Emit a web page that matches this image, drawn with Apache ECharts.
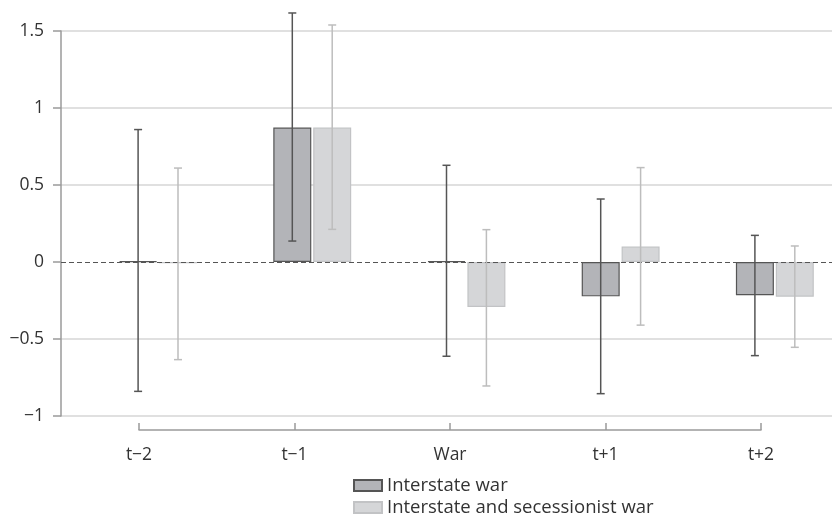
<!DOCTYPE html>
<html>
<head>
<meta charset="utf-8">
<script src="https://cdn.jsdelivr.net/npm/echarts@6/dist/echarts.min.js"></script>
<style>html,body{margin:0;padding:0;background:#fff}#c{width:832px;height:516px}</style>
</head>
<body>
<div id="c"></div>
<script>
var categories = ['t\u22122', 't\u22121', 'War', 't+1', 't+2'];
var interstate = [0.006, 0.873, 0.006, -0.223, -0.216];
var interstateLow = [-0.84, 0.136, -0.612, -0.855, -0.608];
var interstateHigh = [0.86, 1.617, 0.628, 0.409, 0.173];
var combined = [-0.008, 0.873, -0.292, 0.1, -0.225];
var combinedLow = [-0.634, 0.212, -0.805, -0.41, -0.554];
var combinedHigh = [0.61, 1.539, 0.21, 0.613, 0.104];
var seriesNames = ['Interstate war', 'Interstate and secessionist war'];

var FONT = '"Open Sans", "Noto Sans", sans-serif';
var BAR_W = 38, GAP = 0.05;

function errData(lo, hi) {
  return lo.map(function (v, i) { return [i, v, hi[i]]; });
}
function errRender(offset, color) {
  return function (params, api) {
    var i = api.value(0);
    var top = api.coord([i, api.value(2)]);
    var bot = api.coord([i, api.value(1)]);
    var x = top[0] + offset;
    var cap = 4;
    return {
      type: 'group',
      children: [
        { type: 'line', shape: { x1: x, y1: top[1], x2: x, y2: bot[1] }, style: { stroke: color, lineWidth: 1.5 } },
        { type: 'line', shape: { x1: x - cap, y1: top[1], x2: x + cap, y2: top[1] }, style: { stroke: color, lineWidth: 1.5 } },
        { type: 'line', shape: { x1: x - cap, y1: bot[1], x2: x + cap, y2: bot[1] }, style: { stroke: color, lineWidth: 1.5 } }
      ]
    };
  };
}
function legendAt(name, top) {
  return {
    data: [name], orient: 'vertical', left: 353, top: top, padding: 0,
    itemWidth: 28, itemHeight: 11, height: 30,
    icon: 'rect',
    textStyle: { fontFamily: FONT, fontSize: 18.5, color: '#333' }
  };
}

var chart = echarts.init(document.getElementById('c'), null, { renderer: 'canvas' });
chart.setOption({
  animation: false,
  backgroundColor: '#fff',
  textStyle: { fontFamily: FONT },
  grid: [
    { left: 61, top: 31, width: 778, height: 385 },
    { left: 139, top: 429, width: 622, height: 1 }
  ],
  legend: [legendAt(seriesNames[0], 476), legendAt(seriesNames[1], 498)],
  xAxis: [
    { gridIndex: 0, type: 'category', data: categories, boundaryGap: true,
      axisLine: { show: false }, axisTick: { show: false }, axisLabel: { show: false }, splitLine: { show: false } },
    { gridIndex: 1, type: 'category', data: categories, boundaryGap: false, position: 'top',
      axisLine: { show: true, lineStyle: { color: '#9a9a9a', width: 1.5 } },
      axisTick: { show: true, length: 7, inside: false, lineStyle: { color: '#9a9a9a', width: 1.5 } },
      axisLabel: { show: false } },
    { gridIndex: 1, type: 'category', data: categories, boundaryGap: false, position: 'bottom',
      axisLine: { show: false }, axisTick: { show: false },
      axisLabel: { show: true, margin: 16, fontSize: 17.5, color: '#333', fontFamily: FONT } }
  ],
  yAxis: [
    { gridIndex: 0, type: 'value', min: -1, max: 1.5, interval: 0.5,
      axisLine: { show: true, lineStyle: { color: '#9a9a9a', width: 1.5 } },
      axisTick: { show: true, length: 8, lineStyle: { color: '#9a9a9a', width: 1.5 } },
      axisLabel: { margin: 17, fontSize: 17.5, color: '#333', fontFamily: FONT,
        formatter: function (v) { return String(v).replace('-', '\u2212'); } },
      splitLine: { show: true, lineStyle: { color: ['#d6d6d6', '#d6d6d6', 'rgba(0,0,0,0)', '#d6d6d6', '#d6d6d6', '#d6d6d6'], width: 1.5 } } },
    { gridIndex: 1, type: 'value', show: false }
  ],
  series: [
    { name: '_pad', type: 'bar', xAxisIndex: 0, yAxisIndex: 0, barWidth: BAR_W, barGap: '5%',
      data: categories.map(function () { return null; }), silent: true },
    { name: seriesNames[0], type: 'bar', xAxisIndex: 0, yAxisIndex: 0, barWidth: BAR_W, barGap: '5%',
      data: interstate,
      itemStyle: { color: '#b3b4b8', borderColor: '#555', borderWidth: 1.2 },
      markLine: { silent: true, symbol: 'none', label: { show: false },
        lineStyle: { color: '#555', type: [5, 3], width: 1.2 },
        data: [{ yAxis: 0 }], z: 5 } },
    { name: seriesNames[1], type: 'bar', xAxisIndex: 0, yAxisIndex: 0, barWidth: BAR_W, barGap: '5%',
      data: combined,
      itemStyle: { color: '#d5d6d8', borderColor: '#c2c3c5', borderWidth: 1.2 } },
    { type: 'custom', xAxisIndex: 0, yAxisIndex: 0, z: 10, silent: true,
      data: errData(interstateLow, interstateHigh), encode: { x: 0, y: [1, 2] },
      renderItem: errRender(0, '#555') },
    { type: 'custom', xAxisIndex: 0, yAxisIndex: 0, z: 10, silent: true,
      data: errData(combinedLow, combinedHigh), encode: { x: 0, y: [1, 2] },
      renderItem: errRender(BAR_W * (1 + GAP), '#bdbdbd') }
  ]
});
</script>
</body>
</html>
